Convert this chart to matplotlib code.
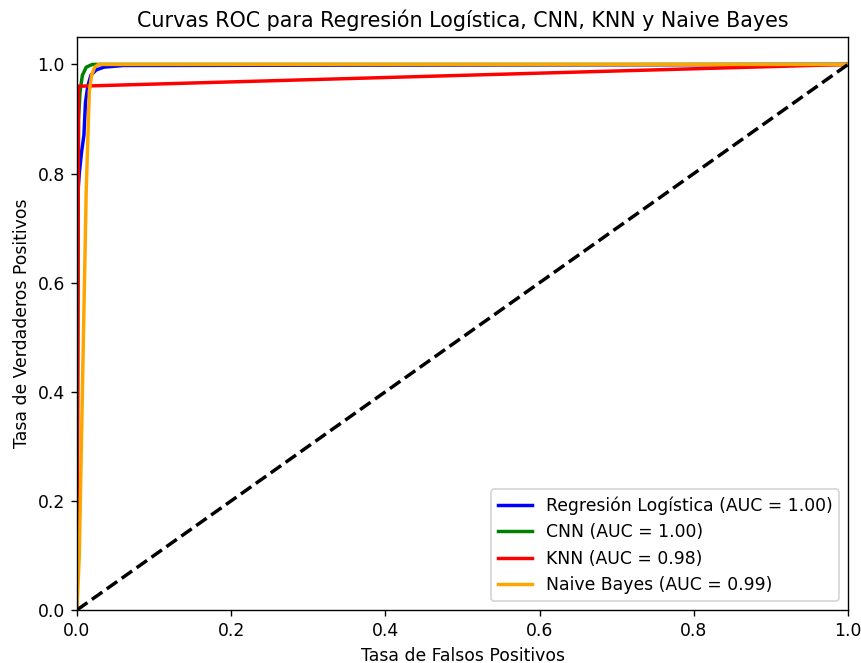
import matplotlib
matplotlib.use('Agg')
import matplotlib.pyplot as plt

# Curvas ROC
fpr_lr = [0.0, 0.0, 0.003, 0.006, 0.009, 0.011, 0.014, 0.018, 0.025, 0.035, 0.06, 1.0]
tpr_lr = [0.0, 0.74, 0.80, 0.84, 0.87, 0.93, 0.96, 0.98, 0.99, 0.995, 0.998, 1.0]

fpr_cnn = [0.0, 0.002, 0.004, 0.007, 0.012, 0.02, 1.0]
tpr_cnn = [0.0, 0.90, 0.95, 0.98, 0.995, 1.0, 1.0]

fpr_knn = [0.0, 0.002, 1.0]
tpr_knn = [0.0, 0.96, 1.0]

fpr_nb = [0.0, 0.003, 0.012, 0.016, 0.019, 0.023, 0.028, 1.0]
tpr_nb = [0.0, 0.10, 0.77, 0.95, 0.98, 0.995, 1.0, 1.0]

auc_lr, auc_cnn, auc_knn, auc_nb = 1.00, 1.00, 0.98, 0.99

fig = plt.figure(figsize=(861 / 124, 663 / 124), dpi=124)
ax = fig.add_axes([0.0894, 0.080, 0.8956, 0.864])
ax.plot(fpr_lr, tpr_lr, color='blue', lw=2, label='Regresión Logística (AUC = %0.2f)' % auc_lr)
ax.plot(fpr_cnn, tpr_cnn, color='green', lw=2, label='CNN (AUC = %0.2f)' % auc_cnn)
ax.plot(fpr_knn, tpr_knn, color='red', lw=2, label='KNN (AUC = %0.2f)' % auc_knn)
ax.plot(fpr_nb, tpr_nb, color='orange', lw=2, label='Naive Bayes (AUC = %0.2f)' % auc_nb)
ax.plot([0, 1], [0, 1], color='black', lw=2, linestyle='--')
ax.set_xlim([0.0, 1.0])
ax.set_ylim([0.0, 1.05])
ax.set_xlabel('Tasa de Falsos Positivos')
ax.set_ylabel('Tasa de Verdaderos Positivos')
ax.set_title('Curvas ROC para Regresión Logística, CNN, KNN y Naive Bayes')
ax.legend(loc='lower right')
fig.savefig('out.png', dpi=124)
